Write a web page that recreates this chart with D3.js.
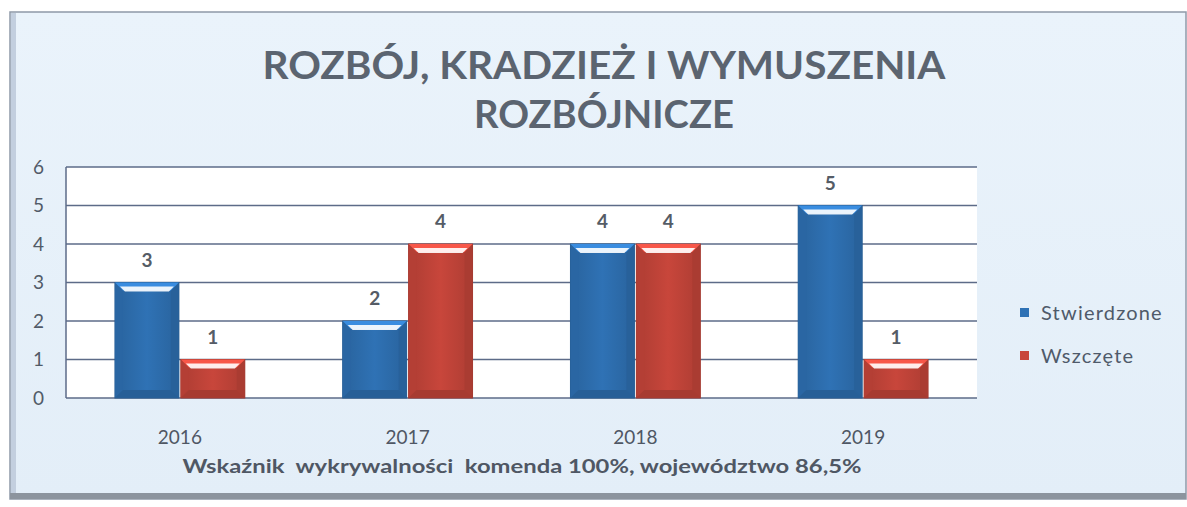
<!DOCTYPE html>
<html>
<head>
<meta charset="utf-8">
<script src="https://cdn.jsdelivr.net/npm/d3@7/dist/d3.min.js"></script>
<style>
  body { margin: 0; background: #fff; }
  svg { display: block; font-family: Lato, "Open Sans", sans-serif; }
</style>
</head>
<body>
<div id="chart"></div>
<script>
// data
var years = ["2016", "2017", "2018", "2019"];
var seriesNames = ["Stwierdzone", "Wszczęte"];
var stwierdzone = [3, 2, 4, 5];
var wszczete = [1, 4, 4, 1];
var yTicks = [0, 1, 2, 3, 4, 5, 6];
var titleLines = ["ROZBÓJ, KRADZIEŻ I WYMUSZENIA", "ROZBÓJNICZE"];
var footnote = "Wskaźnik  wykrywalności  komenda 100%, województwo 86,5%";

var width = 1187,
    height = 507;

var plot = { left: 66, right: 977, top: 167, bottom: 398 };
var colors = ["#2f72b5", "#c8463b"];

var svg = d3.select("#chart").append("svg")
  .attr("width", width)
  .attr("height", height);

var defs = svg.append("defs");

var bg = defs.append("linearGradient").attr("id", "bg")
  .attr("x1", 0).attr("y1", 0).attr("x2", 0).attr("y2", 1);
bg.append("stop").attr("offset", 0).attr("stop-color", "#eaf3fb");
bg.append("stop").attr("offset", 1).attr("stop-color", "#e3eef8");

colors.forEach(function(c, i) {
  var g = defs.append("linearGradient").attr("id", "bar" + i)
    .attr("x1", 0).attr("y1", 0).attr("x2", 1).attr("y2", 0);
  g.append("stop").attr("offset", 0).attr("stop-color", d3.color(c).darker(0.4));
  g.append("stop").attr("offset", 0.5).attr("stop-color", c);
  g.append("stop").attr("offset", 1).attr("stop-color", d3.color(c).darker(0.4));
});

// frame
svg.append("rect")
  .attr("x", 10).attr("y", 12)
  .attr("width", 1176).attr("height", 487)
  .attr("fill", "url(#bg)")
  .attr("stroke", "#8f99a8")
  .attr("stroke-width", 1.5);

svg.append("rect")
  .attr("x", 11).attr("y", 13)
  .attr("width", 5).attr("height", 485)
  .attr("fill", "#c3cfdf");

svg.append("rect")
  .attr("x", 10).attr("y", 493)
  .attr("width", 1176).attr("height", 6)
  .attr("fill", "#8c949e");

// title
svg.append("g").selectAll("text")
  .data(titleLines)
  .enter().append("text")
  .attr("x", 604)
  .attr("y", function(d, i) { return 79 + i * 49; })
  .attr("text-anchor", "middle")
  .attr("font-size", 38)
  .attr("font-weight", "bold")
  .attr("fill", "#5b6470")
  .attr("textLength", function(d, i) { return i === 0 ? 683 : 260; })
  .attr("lengthAdjust", "spacingAndGlyphs")
  .text(function(d) { return d; });

// scales
var x0 = d3.scaleBand()
  .domain(years)
  .range([plot.left, plot.right])
  .paddingInner(0.43)
  .paddingOuter(0.215);

var x1 = d3.scaleBand()
  .domain(seriesNames)
  .range([0, x0.bandwidth()])
  .paddingInner(0.03);

var y = d3.scaleLinear()
  .domain([0, 6])
  .range([plot.bottom, plot.top]);

// plot area
svg.append("rect")
  .attr("x", plot.left).attr("y", plot.top)
  .attr("width", plot.right - plot.left)
  .attr("height", plot.bottom - plot.top)
  .attr("fill", "#fff");

svg.append("g").selectAll("line")
  .data(yTicks)
  .enter().append("line")
  .attr("x1", plot.left).attr("x2", plot.right)
  .attr("y1", function(d) { return y(d); })
  .attr("y2", function(d) { return y(d); })
  .attr("stroke", "#5d6b88")
  .attr("stroke-width", 1.5);

svg.append("line")
  .attr("x1", plot.left).attr("x2", plot.left)
  .attr("y1", plot.top).attr("y2", plot.bottom)
  .attr("stroke", "#5d6b88")
  .attr("stroke-width", 1.5);

// y axis labels
var yAxis = svg.append("g")
  .attr("transform", "translate(" + (plot.left - 22) + ",0)")
  .call(d3.axisLeft(y).tickValues(yTicks).tickFormat(d3.format("d")).tickSize(0).tickPadding(0));
yAxis.select(".domain").remove();
yAxis.selectAll("text")
  .attr("font-family", "Lato, sans-serif")
  .attr("font-size", 19)
  .attr("fill", "#525b68");

// x axis labels
var xAxis = svg.append("g")
  .attr("transform", "translate(0," + (plot.bottom + 32) + ")")
  .call(d3.axisBottom(x0).tickSize(0).tickPadding(0));
xAxis.select(".domain").remove();
xAxis.selectAll("text")
  .attr("font-family", "Lato, sans-serif")
  .attr("font-size", 19)
  .attr("fill", "#4f5764");

// bars
var rows = years.map(function(yr, i) {
  return { year: yr, values: [stwierdzone[i], wszczete[i]] };
});

var group = svg.append("g").selectAll(".year")
  .data(rows)
  .enter().append("g")
  .attr("class", "year")
  .attr("transform", function(d) { return "translate(" + x0(d.year) + ",0)"; });

var bar = group.selectAll(".bar")
  .data(function(d) {
    return d.values.map(function(v, i) { return { name: seriesNames[i], value: v, i: i }; });
  })
  .enter().append("g")
  .attr("class", "bar");

var bev = 8;

bar.append("rect")
  .attr("x", function(d) { return x1(d.name); })
  .attr("y", function(d) { return y(d.value); })
  .attr("width", x1.bandwidth())
  .attr("height", function(d) { return y(0) - y(d.value); })
  .attr("fill", function(d) { return "url(#bar" + d.i + ")"; })
  .attr("stroke", function(d) { return d3.color(colors[d.i]).darker(0.6); })
  .attr("stroke-width", 1);

function pts(arr) { return arr.map(function(p) { return p.join(","); }).join(" "); }

// bevel: sides
bar.append("polygon")
  .attr("points", function(d) {
    var x = x1(d.name), t = y(d.value), b = y(0);
    return pts([[x, t], [x + bev, t + bev], [x + bev, b - bev], [x, b]]);
  })
  .attr("fill", function(d) { return d3.color(colors[d.i]).darker(0.3); });

bar.append("polygon")
  .attr("points", function(d) {
    var x = x1(d.name), t = y(d.value), w = x1.bandwidth(), b = y(0);
    return pts([[x + w, t], [x + w - bev, t + bev], [x + w - bev, b - bev], [x + w, b]]);
  })
  .attr("fill", function(d) { return d3.color(colors[d.i]).darker(0.45); });

// bevel: bottom
bar.append("polygon")
  .attr("points", function(d) {
    var x = x1(d.name), w = x1.bandwidth(), b = y(0);
    return pts([[x, b], [x + bev, b - bev], [x + w - bev, b - bev], [x + w, b]]);
  })
  .attr("fill", function(d) { return d3.color(colors[d.i]).darker(0.5); });

// bevel: top
bar.append("polygon")
  .attr("points", function(d) {
    var x = x1(d.name), t = y(d.value), w = x1.bandwidth();
    return pts([[x, t], [x + w, t], [x + w - bev, t + bev], [x + bev, t + bev]]);
  })
  .attr("fill", function(d) { return d3.color(colors[d.i]).brighter(0.6); });

bar.append("polygon")
  .attr("points", function(d) {
    var x = x1(d.name), t = y(d.value), w = x1.bandwidth();
    return pts([[x + 5, t + 4], [x + w - 5, t + 4], [x + w - bev - 2, t + bev + 1], [x + bev + 2, t + bev + 1]]);
  })
  .attr("fill", "#ffffff")
  .attr("opacity", 0.9);

// value labels
bar.append("text")
  .attr("x", function(d) { return x1(d.name) + x1.bandwidth() / 2; })
  .attr("y", function(d) { return y(d.value) - 16; })
  .attr("text-anchor", "middle")
  .attr("font-size", 19)
  .attr("font-weight", "bold")
  .attr("fill", "#555c66")
  .text(function(d) { return d.value; });

// legend
var legend = svg.append("g").selectAll(".legend")
  .data(seriesNames)
  .enter().append("g")
  .attr("class", "legend")
  .attr("transform", function(d, i) { return "translate(1020," + (313 + i * 43) + ")"; });

legend.append("rect")
  .attr("x", 0).attr("y", -5)
  .attr("width", 9).attr("height", 9)
  .attr("fill", function(d, i) { return colors[i]; });

legend.append("text")
  .attr("x", 21)
  .attr("y", 0)
  .attr("dy", "0.35em")
  .attr("font-size", 20)
  .attr("fill", "#4f5a6a")
  .attr("letter-spacing", 1.2)
  .text(function(d) { return d; });

// footnote
svg.append("text")
  .attr("x", 522)
  .attr("y", 473)
  .attr("text-anchor", "middle")
  .attr("font-size", 18)
  .attr("font-weight", "bold")
  .attr("fill", "#4f5764")
  .attr("textLength", 679)
  .attr("lengthAdjust", "spacingAndGlyphs")
  .attr("xml:space", "preserve")
  .style("white-space", "pre")
  .text(footnote);
</script>
</body>
</html>
